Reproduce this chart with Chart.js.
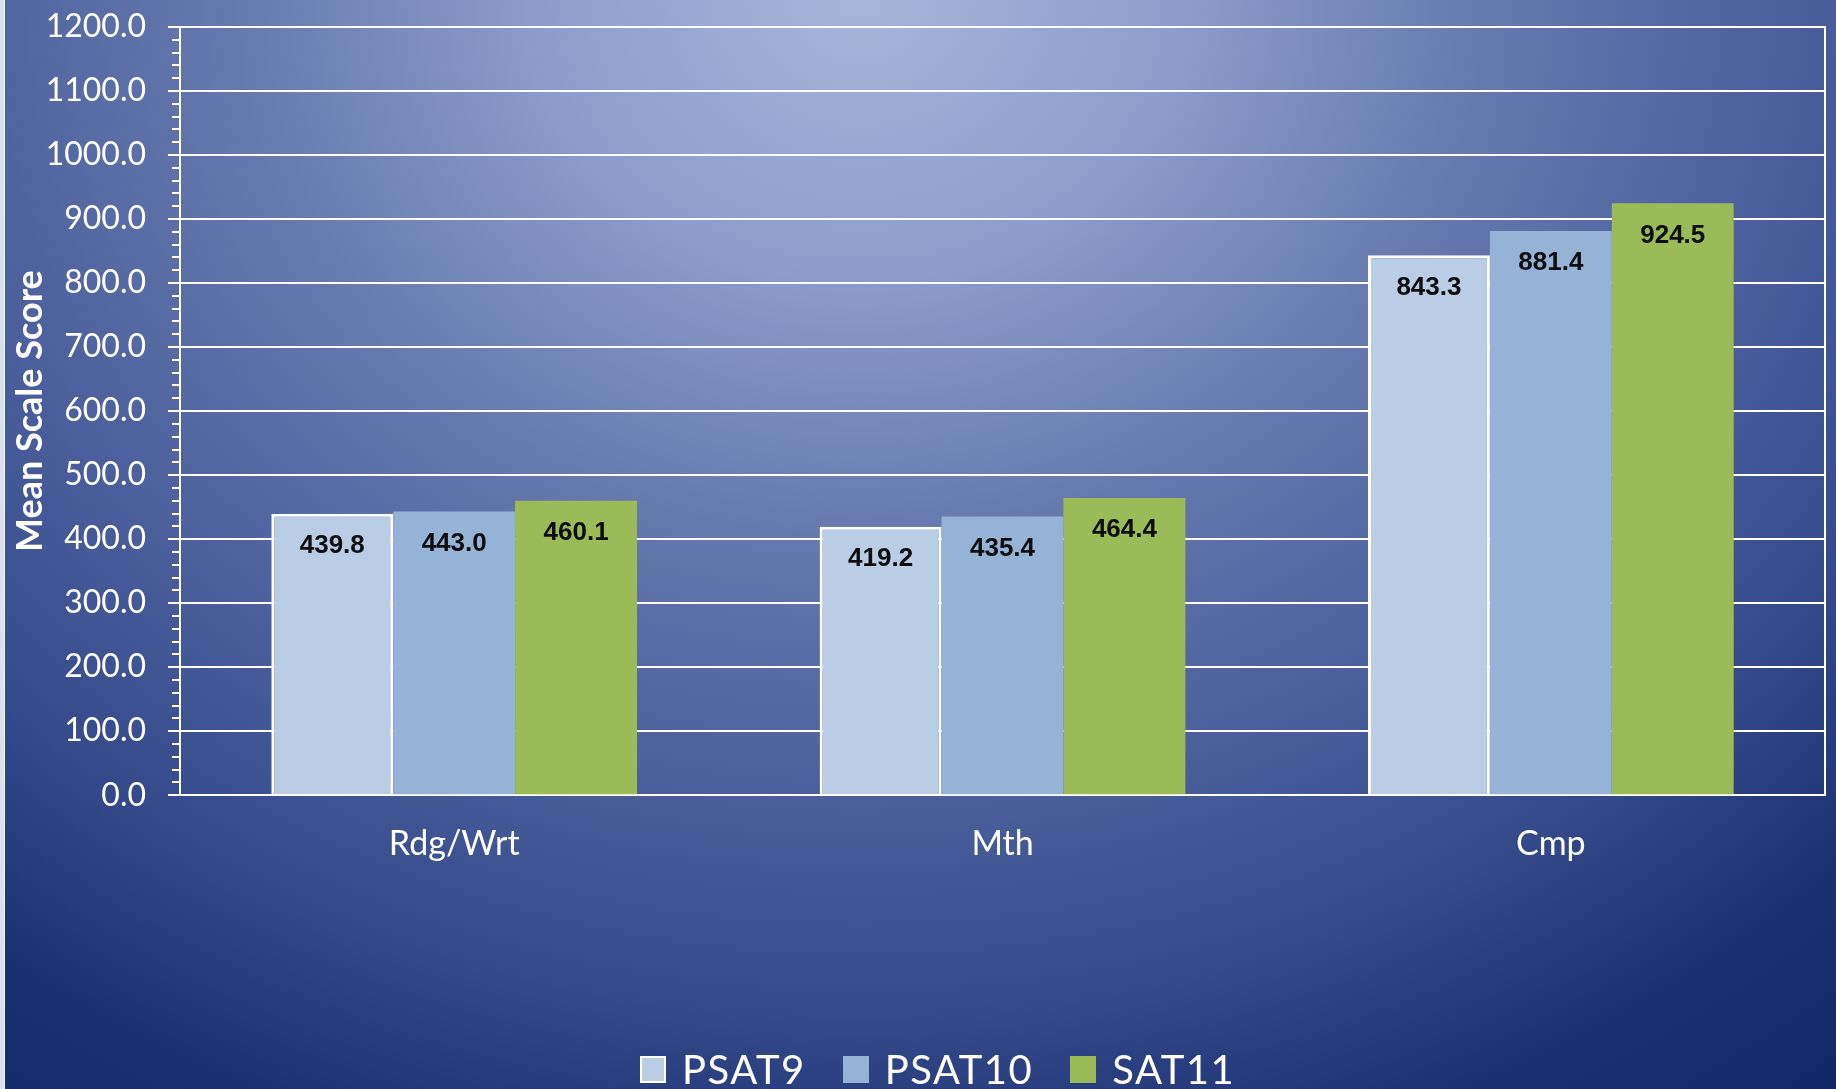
<!DOCTYPE html>
<html>
<head>
<meta charset="utf-8">
<title>Mean Scale Score</title>
<script src="https://cdn.jsdelivr.net/npm/chart.js@4.4.1/dist/chart.umd.min.js"></script>
<style>
  html, body { margin: 0; padding: 0; }
  #frame {
    position: relative;
    width: 1836px;
    height: 1089px;
    overflow: hidden;
    background: radial-gradient(ellipse 1400px 1198px at 860px 0px,
      #a8b5da 0%, #8e9ecc 22%, #6579ad 45%, #4c619d 65%, #34498a 85%, #1b3172 100%, #0c2364 120%);
  }
  #frame::before {
    content: '';
    position: absolute;
    left: 0; top: 0;
    width: 5px; height: 100%;
    background: linear-gradient(to right, #d9e1ec 0 4px, #f4f7fb 4px 5px);
    z-index: 2;
  }
  #chart { position: absolute; left: 0; top: 0; }
  #legend {
    position: absolute;
    left: 640px;
    top: 1045px;
    display: flex;
    align-items: center;
    font-family: Lato, sans-serif;
    font-size: 40px;
    line-height: 48px;
    letter-spacing: 1.5px;
    color: #ffffff;
  }
  .item { display: flex; align-items: center; margin-right: 37px; }
  .swatch { width: 26px; height: 27px; margin-right: 16px; box-sizing: border-box; }
</style>
</head>
<body>
<div id="frame">
  <canvas id="chart" width="1836" height="1089"></canvas>
  <div id="legend"></div>
</div>
<script>
// ===== DATA =====
const categories = ['Rdg/Wrt', 'Mth', 'Cmp'];
const seriesNames = ['PSAT9', 'PSAT10', 'SAT11'];
const psat9 = [439.8, 419.2, 843.3];
const psat10 = [443.0, 435.4, 881.4];
const sat11 = [460.1, 464.4, 924.5];
const yMin = 0;
const yMax = 1200;
const yMajorStep = 100;
const yMinorStep = 20;

const seriesColors = ['#b9cde5', '#95b3d7', '#9bbb59'];

// ===== PLUGINS =====
// value labels just inside the top of each bar
const valueLabels = {
    id: 'valueLabels',
    afterDatasetsDraw(chart) {
        const ctx = chart.ctx;
        ctx.save();
        ctx.font = 'bold 26px "Liberation Sans", Arial, sans-serif';
        ctx.fillStyle = '#0d0d0d';
        ctx.textAlign = 'center';
        ctx.textBaseline = 'middle';
        chart.data.datasets.forEach((ds, i) => {
            chart.getDatasetMeta(i).data.forEach((bar, j) => {
                ctx.fillText(ds.data[j].toFixed(1), bar.x, bar.y + 32);
            });
        });
        ctx.restore();
    }
};

// short minor tick marks on the value axis
const minorTicks = {
    id: 'minorTicks',
    afterDraw(chart) {
        const scale = chart.scales.y;
        const ctx = chart.ctx;
        ctx.save();
        ctx.strokeStyle = '#ffffff';
        ctx.lineWidth = 2;
        ctx.beginPath();
        for (let v = yMin + yMinorStep; v < yMax; v += yMinorStep) {
            if (v % yMajorStep === 0) continue;
            const y = Math.round(scale.getPixelForValue(v));
            ctx.moveTo(scale.right - 8, y);
            ctx.lineTo(scale.right, y);
        }
        ctx.stroke();
        ctx.restore();
    }
};

// ===== CHART =====
const chart = new Chart(document.getElementById('chart'), {
    type: 'bar',
    data: {
        labels: categories,
        datasets: [
            {
                label: seriesNames[0],
                data: psat9,
                backgroundColor: seriesColors[0],
                borderColor: '#ffffff',
                borderWidth: 3,
                borderSkipped: 'bottom'
            },
            {
                label: seriesNames[1],
                data: psat10,
                backgroundColor: seriesColors[1],
                borderWidth: 0
            },
            {
                label: seriesNames[2],
                data: sat11,
                backgroundColor: seriesColors[2],
                borderWidth: 0
            }
        ]
    },
    options: {
        responsive: false,
        animation: false,
        categoryPercentage: 0.667,
        barPercentage: 1.0,
        layout: {
            padding: { top: 27, right: 11, bottom: 197, left: 5 }
        },
        plugins: {
            legend: { display: false },
            tooltip: { enabled: false }
        },
        scales: {
            x: {
                grid: { display: false, drawTicks: false },
                border: { color: '#ffffff', width: 2 },
                ticks: {
                    color: '#ffffff',
                    padding: 28,
                    font: { family: 'Lato', size: 34 }
                }
            },
            y: {
                min: yMin,
                max: yMax,
                afterFit(scale) {
                    scale.width = 175;
                    scale.paddingTop = 0;
                    scale.paddingBottom = 0;
                },
                ticks: {
                    stepSize: yMajorStep,
                    color: '#ffffff',
                    padding: 22,
                    font: { family: 'Lato', size: 32 },
                    callback: value => value.toFixed(1)
                },
                grid: {
                    color: '#ffffff',
                    lineWidth: 2,
                    tickLength: 12
                },
                border: { color: '#ffffff', width: 2 },
                title: {
                    display: true,
                    text: 'Mean Scale Score',
                    color: '#ffffff',
                    padding: { top: 4, bottom: 2 },
                    font: { family: 'Lato', size: 36, weight: 'bold' }
                }
            },
            y2: {
                position: 'right',
                grid: { display: false, drawTicks: false },
                ticks: { display: false },
                border: { color: '#ffffff', width: 2 }
            }
        }
    },
    plugins: [valueLabels, minorTicks]
});

// ===== HTML LEGEND =====
const legendEl = document.getElementById('legend');
chart.data.datasets.forEach(ds => {
    const item = document.createElement('div');
    item.className = 'item';
    const swatch = document.createElement('span');
    swatch.className = 'swatch';
    swatch.style.background = ds.backgroundColor;
    if (ds.borderWidth) swatch.style.border = '2px solid #ffffff';
    const text = document.createElement('span');
    text.textContent = ds.label;
    item.appendChild(swatch);
    item.appendChild(text);
    legendEl.appendChild(item);
});
</script>
</body>
</html>
